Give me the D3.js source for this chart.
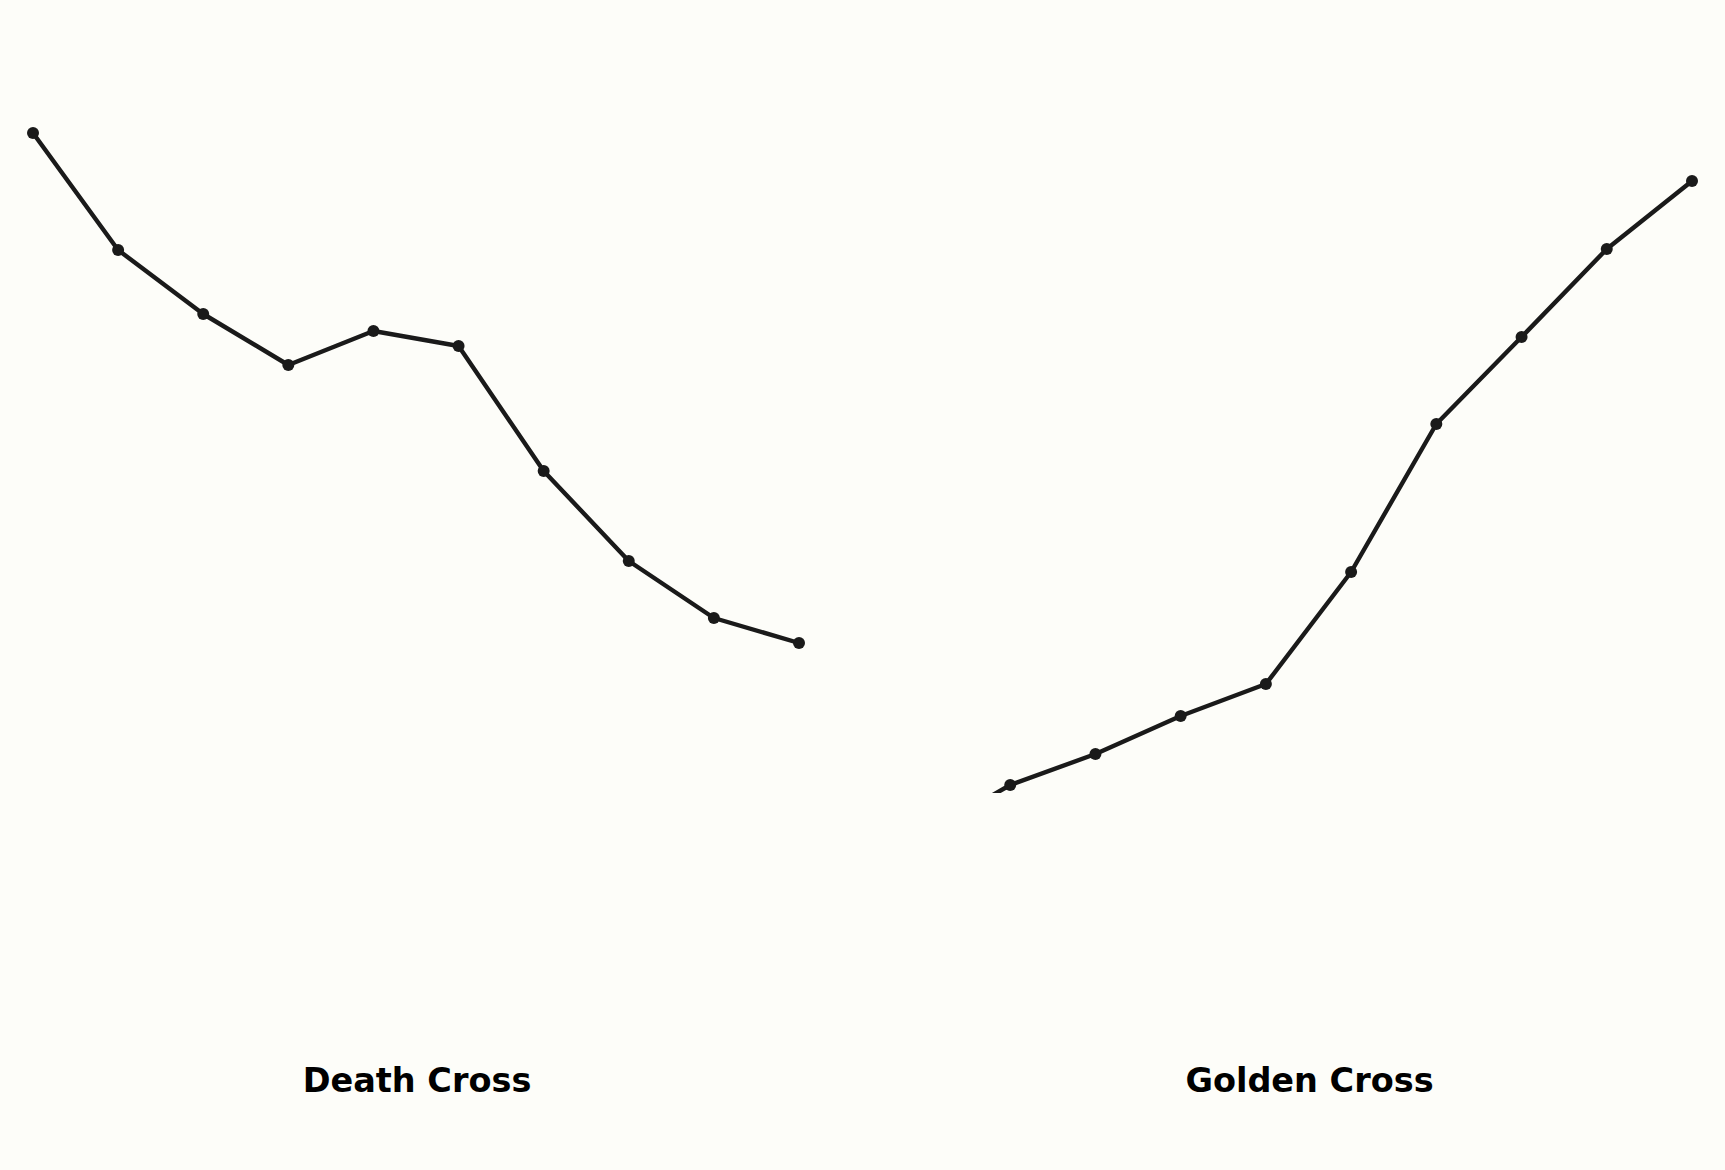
<!DOCTYPE html>
<html><head><meta charset="utf-8">
<script src="https://cdn.jsdelivr.net/npm/d3@7"></script>
<style>html,body{margin:0;padding:0;background:#fdfdf9;}svg{display:block;}</style>
</head><body>
<script>
const periods = [1,2,3,4,5,6,7,8,9,10];
const deathCross = [106.0, 94.3, 87.9, 82.8, 86.2, 84.7, 72.2, 63.2, 57.5, 55.0];
const goldenCross = [35.9, 40.8, 43.9, 47.7, 50.9, 62.1, 76.9, 85.6, 94.4, 101.2];
const panelTitles = ["Death Cross", "Golden Cross"];

const W = 1725, H = 1170;
const svg = d3.select("body").append("svg").attr("width", W).attr("height", H);
svg.append("rect").attr("width", W).attr("height", H).attr("fill", "#fdfdf9");

const y = d3.scaleLinear().domain([40, 110]).range([793, 93]);
const panels = [
  {data: deathCross, x0: 33, x1: 799, title: panelTitles[0]},
  {data: goldenCross, x0: 925, x1: 1692, title: panelTitles[1]}
];

panels.forEach((p, i) => {
  const x = d3.scalePoint().domain(periods).range([p.x0, p.x1]);
  const clipId = "clip" + i;
  svg.append("clipPath").attr("id", clipId)
    .append("rect").attr("x", p.x0 - 40).attr("y", 0).attr("width", p.x1 - p.x0 + 80).attr("height", 793);
  const g = svg.append("g").attr("clip-path", `url(#${clipId})`);
  const line = d3.line().x((d, j) => x(periods[j])).y(d => y(d));
  g.append("path").datum(p.data).attr("d", line)
    .attr("fill", "none").attr("stroke", "#1a1a1a").attr("stroke-width", 4.4)
    .attr("stroke-linejoin", "round");
  g.selectAll("circle").data(p.data).join("circle")
    .attr("cx", (d, j) => x(periods[j])).attr("cy", d => y(d)).attr("r", 6)
    .attr("fill", "#1a1a1a");
  svg.append("text").attr("x", (p.x0 + p.x1) / 2 + 1).attr("y", 1092)
    .attr("text-anchor", "middle").attr("font-family", "DejaVu Sans")
    .attr("font-weight", "bold").attr("font-size", 33.5).attr("fill", "#000")
    .text(p.title);
});
</script>
</body></html>
